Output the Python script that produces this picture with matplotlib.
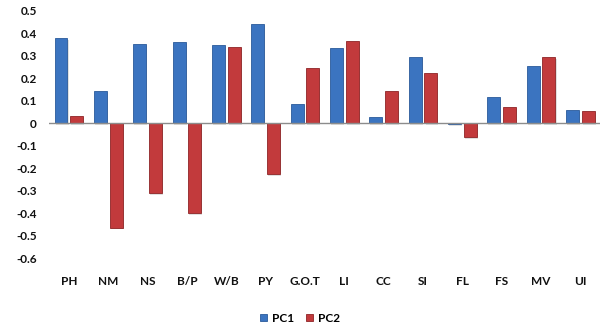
import matplotlib
matplotlib.use('Agg')
import matplotlib.pyplot as plt
import numpy as np

# Loadings
traits = ['PH', 'NM', 'NS', 'B/P', 'W/B', 'PY', 'G.O.T', 'LI', 'CC', 'SI', 'FL', 'FS', 'MV', 'UI']
pc1 = [0.38, 0.143, 0.353, 0.36, 0.348, 0.44, 0.085, 0.337, 0.027, 0.296, -0.005, 0.117, 0.253, 0.058]
pc2 = [0.03, -0.464, -0.31, -0.40, 0.34, -0.228, 0.246, 0.367, 0.143, 0.223, -0.063, 0.073, 0.296, 0.053]
yticks = [0.5, 0.4, 0.3, 0.2, 0.1, 0, -0.1, -0.2, -0.3, -0.4, -0.5, -0.6]

plt.rcParams['font.family'] = ['Lato', 'DejaVu Sans']

fig = plt.figure(figsize=(6, 3.3), dpi=100)
ax = fig.add_axes([0.082, 0.218, 0.918, 0.749])

x = np.arange(len(traits))
w = 0.33
off = 0.2
blue = '#3b74c0'
red = '#c23a3c'

# soft drop shadow under each bar
for xs, vals in ((x - off, pc1), (x + off, pc2)):
    ax.bar(xs + 0.03, vals, w, bottom=-0.008, color='#000000', alpha=0.12, zorder=1)

ax.bar(x - off, pc1, w, color=blue, edgecolor='#2a5a9a', linewidth=0.6, label='PC1', zorder=2)
ax.bar(x + off, pc2, w, color=red, edgecolor='#8e2426', linewidth=0.6, label='PC2', zorder=2)

ax.axhline(0, color='#8c8c8c', linewidth=1, zorder=3)

ax.set_xlim(-0.5, len(traits) - 0.5)
ax.set_ylim(-0.6, 0.5)
ax.set_yticks(yticks)
ax.set_yticklabels([('%g' % v) for v in yticks])
ax.set_xticks(x)
ax.set_xticklabels(traits)
ax.tick_params(axis='both', length=0, labelsize=8.5)
ax.tick_params(axis='y', pad=9)
ax.tick_params(axis='x', pad=13)
for lab in ax.get_xticklabels() + ax.get_yticklabels():
    lab.set_fontweight('bold')
    lab.set_color('#111111')
for s in ax.spines.values():
    s.set_visible(False)

leg = fig.legend(loc='center', bbox_to_anchor=(0.5, 0.036), ncol=2, frameon=False,
                 handlelength=0.6, handleheight=0.6, handletextpad=0.4, columnspacing=1.0,
                 prop={'weight': 'bold', 'size': 8.5})

fig.savefig('out.png', dpi=100)
